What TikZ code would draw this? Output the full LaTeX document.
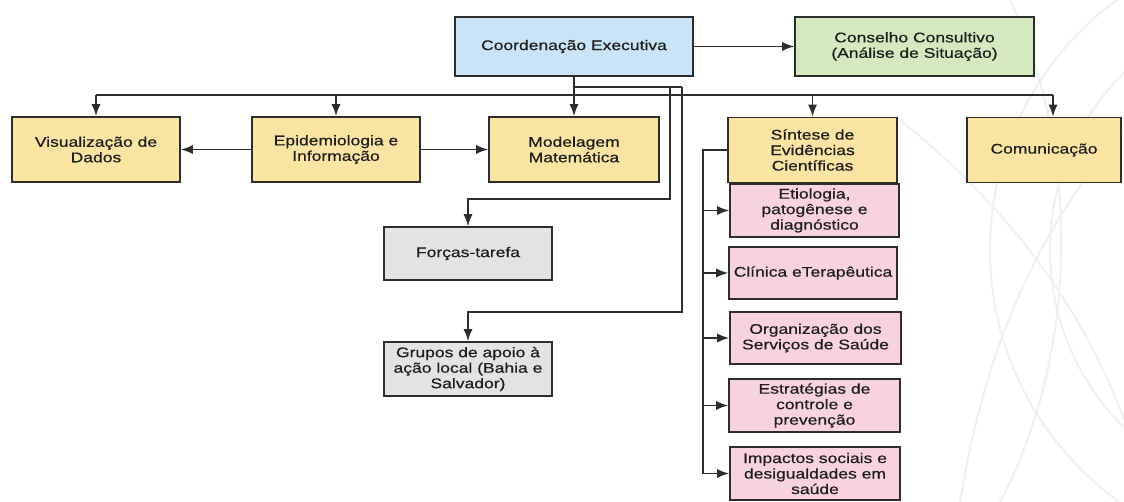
\documentclass[tikz,border=0pt]{standalone}
\usepackage{fontspec}
\setmainfont{Liberation Sans}[FakeStretch=1.25,FakeBold=0.6]
\usetikzlibrary{arrows.meta,calc}
\definecolor{cblue}{RGB}{200,228,246}
\definecolor{cgreen}{RGB}{212,234,190}
\definecolor{cyellow}{RGB}{250,228,162}
\definecolor{cpink}{RGB}{248,210,222}
\definecolor{cgrey}{RGB}{227,227,227}
\definecolor{cline}{RGB}{45,45,45}
\definecolor{ctext}{RGB}{30,30,30}
\definecolor{cwm}{RGB}{240,240,240}
\tikzset{
  box/.style={draw=cline, line width=1.6pt, inner sep=1pt, align=center, text=ctext,
    font=\fontsize{14}{15.5}\selectfont},
  conn/.style={draw=cline, line width=1.5pt},
  arr/.style={conn, -{Latex[length=12pt,width=9pt]}},
  wm/.style={draw=cwm, line width=2pt},
}
\begin{document}
\begin{tikzpicture}[x=1pt,y=-1pt]
\useasboundingbox (0,0) rectangle (1124,502);
\fill[white] (0,0) rectangle (1124,502);
% faint watermark
\begin{scope}
\clip (0,0) rectangle (1124,502);
\draw[wm] (1300,250) circle[radius=310];
\draw[wm] (1300,250) circle[radius=250];
\draw[wm] (1010,0) .. controls (1080,150) and (1080,350) .. (1000,502);
\draw[wm] (1124,130) .. controls (1020,250) and (980,380) .. (960,502);
\draw[wm] (900,120) .. controls (1000,200) and (1080,300) .. (1124,420);
\end{scope}
% nodes
\node[box, fill=cblue, minimum width=238pt, minimum height=59pt] (coord) at (574,46.5) {Coordenação Executiva};
\node[box, fill=cgreen, minimum width=239pt, minimum height=59pt] (cons) at (914.5,46.5) {Conselho Consultivo\\(Análise de Situação)};
\node[box, fill=cyellow, minimum width=168pt, minimum height=65pt] (vis) at (96,149.5) {Visualização de\\Dados};
\node[box, fill=cyellow, minimum width=168pt, minimum height=65pt] (epi) at (336,149.5) {Epidemiologia e\\Informação};
\node[box, fill=cyellow, minimum width=170pt, minimum height=65pt] (mod) at (574,149.5) {Modelagem\\Matemática};
\node[box, fill=cyellow, minimum width=169pt, minimum height=65pt] (sin) at (812.5,150) {Síntese de\\Evidências\\Científicas};
\node[box, fill=cyellow, minimum width=154pt, minimum height=65pt] (com) at (1044,150) {Comunicação};
\node[box, fill=cgrey, minimum width=168pt, minimum height=53pt] (forcas) at (468,253.5) {Forças-tarefa};
\node[box, fill=cgrey, minimum width=168pt, minimum height=54pt] (grupos) at (468,369) {Grupos de apoio à\\ação local (Bahia e\\Salvador)};
\node[box, fill=cpink, minimum width=169pt, minimum height=53pt] (eti) at (814.5,210.5) {Etiologia,\\patogênese e\\diagnóstico};
\node[box, fill=cpink, minimum width=168pt, minimum height=52pt] (cli) at (813,273) {Clínica eTerapêutica};
\node[box, fill=cpink, minimum width=171pt, minimum height=52pt] (org) at (815.5,338) {Organização dos\\Serviços de Saúde};
\node[box, fill=cpink, minimum width=171pt, minimum height=53pt] (est) at (814.5,405.5) {Estratégias de\\controle e\\prevenção};
\node[box, fill=cpink, minimum width=170pt, minimum height=53pt] (imp) at (815,473.5) {Impactos sociais e\\desigualdades em\\saúde};
% coordinates
\coordinate (busL) at (96,95);
\coordinate (busR) at (1053,95);
\coordinate (j1) at (575,87);
\coordinate (f1) at (670,87);
\coordinate (g1) at (682,87);
\coordinate (fk) at (670,199);
\coordinate (gk) at (682,312);
\coordinate (sk) at (703,150);
% connectors
\draw[arr] (coord.east) -- (cons.west);
\draw[arr] (coord.south) -- (mod.north);
\draw[conn] (busL) -- (busR);
\draw[arr] (busL) -- (vis.north);
\draw[arr] (epi.north |- busL) -- (epi.north);
\draw[arr] (sin.north |- busL) -- (sin.north);
\draw[arr] (busR) -- (busR |- com.north);
\draw[conn] (j1) -- (g1);
\draw[arr] (f1) -- (fk) -| (forcas.north);
\draw[arr] (g1) -- (gk) -| (grupos.north);
\draw[arr] (epi.west) -- (vis.east);
\draw[arr] (epi.east) -- (mod.west);
\draw[conn] (sin.west) -- (sk) -- (sk |- imp.west);
\draw[arr] (sk |- eti.west) -- (eti.west);
\draw[arr] (sk |- cli.west) -- (cli.west);
\draw[arr] (sk |- org.west) -- (org.west);
\draw[arr] (sk |- est.west) -- (est.west);
\draw[arr] (sk |- imp.west) -- (imp.west);
\end{tikzpicture}
\end{document}
